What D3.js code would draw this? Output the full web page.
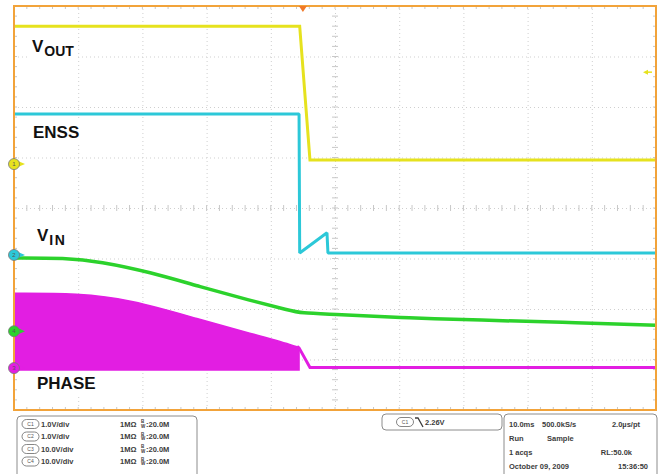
<!DOCTYPE html>
<html>
<head>
<meta charset="utf-8">
<script src="https://cdn.jsdelivr.net/npm/d3@7"></script>
<style>
body { margin: 0; background: #fff; }
text { font-family: "Liberation Sans", Arial, sans-serif; }
</style>
</head>
<body>
<script>
// scope settings: 10 ms/div, 10 x 8 divisions, trigger at 0 ms
var timeDomain = [-45, 55];
var xDivTicks = d3.range(-45, 56, 10);
var yDivTicks = d3.range(-4, 5, 1);

// channels 1..4
var chIds = [1, 2, 3, 4];
var chVoltsPerDiv = [1, 1, 10, 10];
var chGroundDiv = [0.87, -0.93, -3.17, -2.44];
var chColors = ["#e6e21e", "#2cc8d8", "#e21ee2", "#2cd22c"];

// traces, [ms, volts]
var vout = [[-45, 2.73], [-0.5, 2.73], [1.1, 0.08], [55, 0.08]];
var enss = [[-45, 2.79], [-0.6, 2.79], [-0.5, 0.04], [3.75, 0.44], [3.9, 0.04], [55, 0.04]];
var vin = [[-45, 14.5], [-37, 14.5], [-31.6, 13.8], [-23.8, 11.7], [-16, 8.8], [-8.2, 6.1],
           [-2, 4.1], [-0.45, 3.6], [5, 3.35], [16.7, 2.6], [27.6, 2.2], [40, 1.8], [55, 1.2]];
var phase = [[-45, 14.8], [-35, 14.8], [-26.9, 13.6], [-16, 9.6], [-8.2, 6.9], [-0.9, 4.3],
             [-0.6, 4.0], [1.1, 0.1], [55, 0.1]];
var phaseSwitchEnd = -0.6;   // switching stops here
var phaseLow = -0.4;         // low side of the switching node
var trigLevelCh1 = 1.82;     // level arrow on the right edge

// trace labels
var labelMain = ["V", "ENSS", "V", "PHASE"];
var labelSub = ["OUT", "", "IN", ""];

// readout panels
var chScaleText = ["1.0V/div", "1.0V/div", "10.0V/div", "10.0V/div"];
var chImpText = ["1M\u03a9", "1M\u03a9", "1M\u03a9", "1M\u03a9"];
var chBwText = [":20.0M", ":20.0M", ":20.0M", ":20.0M"];
var trigText = ["C1", "2.26V"];
var acqLeft = ["10.0ms", "Run", "1 acqs", "October 09, 2009"];
var acqMid = ["500.0kS/s", "Sample", "", ""];
var acqRight = ["2.0\u00b5s/pt", "", "RL:50.0k", "15:36:50"];

window.onload = function(){
    var w = 661, h = 474;
    var plot = {left: 14, right: 656, top: 6, bottom: 410};

    var svg = d3.select("body").append("svg")
        .attr("width", w)
        .attr("height", h);

    var x = d3.scaleLinear().domain(timeDomain).range([plot.left, plot.right]);
    var yDiv = d3.scaleLinear().domain([-4, 4]).range([plot.bottom, plot.top]);
    var midT = (timeDomain[0] + timeDomain[1]) / 2;

    //one y scale per channel, in volts
    var yCh = chIds.map(function(d, i){
        var vd = chVoltsPerDiv[i], g = chGroundDiv[i];
        return d3.scaleLinear()
            .domain([(-4 - g) * vd, (4 - g) * vd])
            .range([plot.bottom, plot.top]);
    });

    //graticule
    svg.append("g")
        .attr("class", "grid")
        .attr("transform", "translate(0," + plot.bottom + ")")
        .call(d3.axisBottom(x).tickValues(xDivTicks.slice(1, -1))
            .tickSize(-(plot.bottom - plot.top)).tickFormat(""));
    svg.append("g")
        .attr("class", "grid")
        .attr("transform", "translate(" + plot.left + ",0)")
        .call(d3.axisLeft(yDiv).tickValues(yDivTicks.slice(1, -1))
            .tickSize(-(plot.right - plot.left)).tickFormat(""));
    svg.selectAll(".grid .domain").remove();
    svg.selectAll(".grid text").remove();
    svg.selectAll(".grid .tick line")
        .attr("stroke", "#cfcfcf")
        .attr("stroke-dasharray", "1,3");

    //minor ticks, 5 per division
    var minorX = d3.range(timeDomain[0] + 2, timeDomain[1], 2);
    var minorY = d3.range(-3.8, 4, 0.2);
    var ticks = svg.append("g").attr("stroke", "#c8c8c8").attr("stroke-width", 1);
    [plot.top, yDiv(0), plot.bottom].forEach(function(yy, k){
        ticks.selectAll(null).data(minorX).enter().append("line")
            .attr("x1", function(d){ return x(d); })
            .attr("x2", function(d){ return x(d); })
            .attr("y1", k == 0 ? yy : yy - 3)
            .attr("y2", k == 2 ? yy : yy + 3);
    });
    [plot.left, x(midT), plot.right].forEach(function(xx, k){
        ticks.selectAll(null).data(minorY).enter().append("line")
            .attr("y1", function(d){ return yDiv(d); })
            .attr("y2", function(d){ return yDiv(d); })
            .attr("x1", k == 0 ? xx : xx - 3)
            .attr("x2", k == 2 ? xx : xx + 3);
    });

    //labels, white backing
    var labelPos = [[32, 52], [33, 138], [37, 241], [37, 389]];
    var labels = svg.append("g");
    labelMain.forEach(function(m, i){
        var t = labels.append("text")
            .attr("x", labelPos[i][0])
            .attr("y", labelPos[i][1])
            .attr("font-family", "DejaVu Sans")
            .attr("font-weight", "bold")
            .attr("font-size", 17)
            .attr("fill", "#111")
            .text(m);
        if (labelSub[i]) {
            t.append("tspan")
                .attr("dy", 4)
                .attr("dx", 1)
                .attr("font-size", 14)
                .attr("letter-spacing", i == 2 ? 1.5 : 0)
                .text(labelSub[i]);
        }
        var bb = t.node().getBBox();
        labels.insert("rect", function(){ return t.node(); })
            .attr("x", bb.x - 3).attr("y", bb.y - 2)
            .attr("width", bb.width + 6).attr("height", bb.height + 4)
            .attr("fill", "#fff");
    });

    var line = d3.line()
        .x(function(d){ return x(d[0]); });

    //PHASE: dense switching drawn as a filled band, then the tail
    var sw = phase.filter(function(d){ return d[0] <= phaseSwitchEnd; });
    var tail = phase.filter(function(d){ return d[0] >= -0.9; });
    svg.append("path")
        .datum(sw)
        .attr("fill", chColors[2])
        .attr("stroke", chColors[2])
        .attr("stroke-width", 1.5)
        .attr("d", d3.area()
            .x(function(d){ return x(d[0]); })
            .y0(yCh[2](phaseLow))
            .y1(function(d){ return yCh[2](d[1]); })
            .curve(d3.curveBasis));
    svg.append("path")
        .datum(tail)
        .attr("fill", "none")
        .attr("stroke", chColors[2])
        .attr("stroke-width", 3)
        .attr("d", line.y(function(d){ return yCh[2](d[1]); }).curve(d3.curveLinear));

    svg.append("path")
        .datum(vin)
        .attr("fill", "none")
        .attr("stroke", chColors[3])
        .attr("stroke-width", 3.5)
        .attr("d", line.y(function(d){ return yCh[3](d[1]); }).curve(d3.curveBasis));

    svg.append("path")
        .datum(enss)
        .attr("fill", "none")
        .attr("stroke", chColors[1])
        .attr("stroke-width", 3)
        .attr("stroke-linejoin", "bevel")
        .attr("d", line.y(function(d){ return yCh[1](d[1]); }).curve(d3.curveLinear));

    svg.append("path")
        .datum(vout)
        .attr("fill", "none")
        .attr("stroke", chColors[0])
        .attr("stroke-width", 3)
        .attr("d", line.y(function(d){ return yCh[0](d[1]); }).curve(d3.curveLinear));

    //frame
    svg.append("rect")
        .attr("x", plot.left).attr("y", plot.top)
        .attr("width", plot.right - plot.left)
        .attr("height", plot.bottom - plot.top)
        .attr("fill", "none")
        .attr("stroke", "#f2a33a")
        .attr("stroke-width", 2);

    //channel ground markers
    var mk = svg.selectAll(".mk").data(chIds).enter().append("g")
        .attr("class", "mk")
        .attr("transform", function(d, i){
            return "translate(" + plot.left + "," + yCh[i](0) + ")";
        });
    mk.append("path")
        .attr("d", "M4,-3L11,0L4,3Z")
        .attr("fill", function(d, i){ return chColors[i]; });
    mk.append("circle")
        .attr("r", 5.5)
        .attr("fill", function(d, i){ return chColors[i]; })
        .attr("stroke", "#777")
        .attr("stroke-width", 0.8);
    mk.append("text")
        .attr("text-anchor", "middle")
        .attr("dy", "0.35em")
        .attr("font-size", 6)
        .attr("fill", "#555")
        .text(function(d){ return d; });

    //trigger position and level
    svg.append("path")
        .attr("d", "M" + (x(0) - 4) + "," + plot.top + "L" + (x(0) + 4) + "," + plot.top +
            "L" + x(0) + "," + (plot.top + 6) + "Z")
        .attr("fill", "#f07828");
    var ty = yCh[0](trigLevelCh1);
    svg.append("path")
        .attr("d", "M" + (plot.right - 13) + "," + ty + "L" + (plot.right - 8) + "," + (ty - 2.5) +
            "L" + (plot.right - 8) + "," + (ty + 2.5) + "Z")
        .attr("fill", chColors[0]);
    svg.append("line")
        .attr("x1", plot.right - 8).attr("x2", plot.right - 4)
        .attr("y1", ty).attr("y2", ty)
        .attr("stroke", chColors[0]).attr("stroke-width", 1.5);

    //readout panels
    var ink = "#3c3c3c", fs = 7.5;
    function box(x0, y0, bw, bh){
        svg.append("rect")
            .attr("x", x0).attr("y", y0).attr("width", bw).attr("height", bh)
            .attr("rx", 4)
            .attr("fill", "#fff")
            .attr("stroke", "#8c8c8c")
            .attr("stroke-width", 1);
    }
    function txt(x0, y0, s, anchor){
        return svg.append("text")
            .attr("x", x0).attr("y", y0)
            .attr("dy", "0.35em")
            .attr("text-anchor", anchor || "start")
            .attr("font-size", fs)
            .attr("font-weight", "bold")
            .attr("fill", ink)
            .text(s);
    }
    function oval(cx, cy, s){
        svg.append("rect")
            .attr("x", cx - 8.5).attr("y", cy - 4.5)
            .attr("width", 17).attr("height", 9)
            .attr("rx", 4.5)
            .attr("fill", "#fff")
            .attr("stroke", "#666")
            .attr("stroke-width", 0.8);
        svg.append("text")
            .attr("x", cx).attr("y", cy).attr("dy", "0.35em")
            .attr("text-anchor", "middle")
            .attr("font-size", 5)
            .attr("fill", "#555")
            .text(s);
    }

    box(17, 416, 180, 70);
    var rowL = [424, 436.5, 449, 461.5];
    chIds.forEach(function(d, i){
        oval(30.5, rowL[i], "C" + d);
        txt(41, rowL[i], chScaleText[i]);
        txt(120, rowL[i], chImpText[i]);
        svg.append("text").attr("x", 141).attr("y", rowL[i] - 1)
            .attr("font-size", 4.5).attr("font-weight", "bold").attr("fill", ink).text("B");
        svg.append("text").attr("x", 141).attr("y", rowL[i] + 3.5)
            .attr("font-size", 4.5).attr("font-weight", "bold").attr("fill", ink).text("W");
        txt(146, rowL[i], chBwText[i]);
    });

    box(382, 414, 120, 16);
    oval(405, 422, trigText[0]);
    svg.append("path")
        .attr("d", "M415,418L418,418L423,427")
        .attr("fill", "none")
        .attr("stroke", ink)
        .attr("stroke-width", 1.3);
    txt(425, 422, trigText[1]);

    box(504, 414, 153, 70);
    var rowR = [424, 438, 452, 466];
    rowR.forEach(function(yy, i){
        txt(509, yy, acqLeft[i]);
        if (acqMid[i]) txt(i == 0 ? 542 : 547, yy, acqMid[i]);
        if (acqRight[i]) txt(i == 3 ? 648 : (i == 0 ? 640 : 632), yy, acqRight[i], "end");
    });
};
</script>
</body>
</html>
